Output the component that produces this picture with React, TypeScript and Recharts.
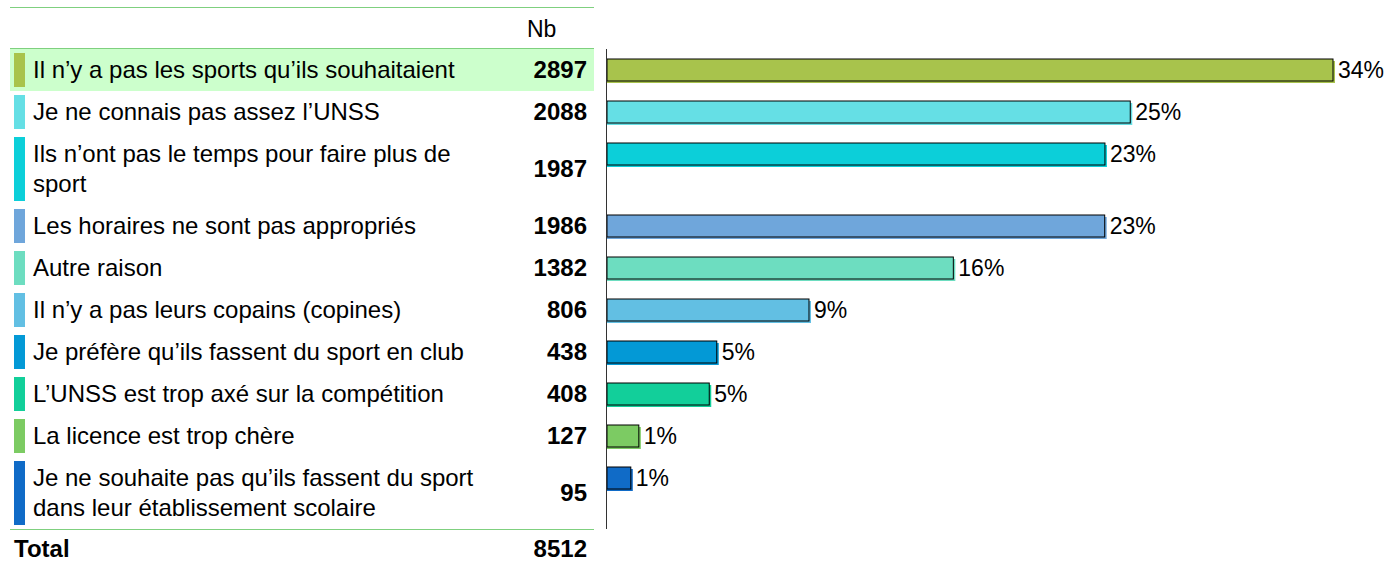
import { Bar, BarChart, LabelList, XAxis, YAxis } from "recharts";

const reasons = [
  "Il n’y a pas les sports qu’ils souhaitaient",
  "Je ne connais pas assez l’UNSS",
  "Ils n’ont pas le temps pour faire plus de\nsport",
  "Les horaires ne sont pas appropriés",
  "Autre raison",
  "Il n’y a pas leurs copains (copines)",
  "Je préfère qu’ils fassent du sport en club",
  "L’UNSS est trop axé sur la compétition",
  "La licence est trop chère",
  "Je ne souhaite pas qu’ils fassent du sport\ndans leur établissement scolaire",
];

const counts = [2897, 2088, 1987, 1986, 1382, 806, 438, 408, 127, 95];

const barColors = [
  "#a8c34c",
  "#65dfe5",
  "#0ccfd9",
  "#6fa6db",
  "#6dddc0",
  "#62bfe3",
  "#0399d6",
  "#12cf9a",
  "#7ccb63",
  "#106bc7",
];

const total = 8512;
const headerLabel = "Nb";
const totalLabel = "Total";

const font = "'Liberation Sans', Arial, Helvetica, sans-serif";
const green = "#7fd07f";
const maxCount = Math.max(...counts);

const pct = (v: number) => `${Math.round((v / total) * 100)}%`;

// bar with a black outline and a coloured drop shadow under / right of it
const ShadowBar = (props: any) => {
  const { x, y, width, height, fill } = props;
  if (!width || width <= 0) return null;
  return (
    <g>
      <rect x={x} y={y + 2} width={width + 2} height={height} fill={fill} />
      <rect
        x={x}
        y={y}
        width={width}
        height={height}
        fill={fill}
        stroke="#000"
        strokeWidth={1}
      />
    </g>
  );
};

const RowChart = ({ name, value, color }: { name: string; value: number; color: string }) => (
  <BarChart
    width={790}
    height={42}
    layout="vertical"
    data={[{ name, value }]}
    margin={{ top: 0, right: 64, left: 0, bottom: 0 }}
  >
    <XAxis type="number" domain={[0, maxCount]} hide />
    <YAxis type="category" dataKey="name" hide />
    <Bar
      dataKey="value"
      fill={color}
      barSize={22}
      isAnimationActive={false}
      shape={(p: any) => <ShadowBar {...p} />}
    >
      <LabelList
        dataKey="value"
        position="right"
        offset={5}
        formatter={(v: any) => pct(Number(v))}
        fill="#000"
        fontSize={23}
        fontFamily={font}
      />
    </Bar>
  </BarChart>
);

export default function App() {
  return (
    <div
      style={{
        position: "absolute",
        left: 0,
        top: 0,
        width: 1388,
        height: 562,
        overflow: "hidden",
        background: "#fff",
        fontFamily: font,
        color: "#000",
      }}
    >
      <div style={{ position: "absolute", left: 10, top: 7 }}>
        {/* header */}
        <div
          style={{
            width: 584,
            height: 40,
            borderTop: `1px solid ${green}`,
            borderBottom: `1px solid ${green}`,
            position: "relative",
          }}
        >
          <div
            style={{
              position: "absolute",
              left: 517,
              top: 7,
              fontSize: 23,
              lineHeight: "28px",
            }}
          >
            {headerLabel}
          </div>
        </div>

        {reasons.map((reason, i) => (
          <div key={reason} style={{ display: "flex" }}>
            <div
              style={{
                width: 584,
                position: "relative",
                background: i === 0 ? "#ccffcc" : "transparent",
                display: "flex",
                alignItems: "center",
              }}
            >
              <div
                style={{
                  position: "absolute",
                  left: 4,
                  top: 4,
                  bottom: 4,
                  width: 11,
                  background: barColors[i],
                }}
              />
              <div
                style={{
                  marginLeft: 23,
                  padding: "6px 0",
                  whiteSpace: "pre",
                  fontSize: 24,
                  lineHeight: "30px",
                }}
              >
                {reason}
              </div>
              <div
                style={{
                  position: "absolute",
                  right: 7,
                  top: 0,
                  bottom: 0,
                  display: "flex",
                  alignItems: "center",
                  fontWeight: "bold",
                  fontSize: 24,
                }}
              >
                {counts[i]}
              </div>
            </div>
            <div style={{ marginLeft: 12, borderLeft: "1px solid #333" }}>
              <RowChart name={reason} value={counts[i]} color={barColors[i]} />
            </div>
          </div>
        ))}

        {/* total */}
        <div
          style={{
            width: 584,
            height: 25,
            paddingTop: 6,
            borderTop: `1px solid ${green}`,
            display: "flex",
            alignItems: "flex-start",
            justifyContent: "space-between",
            fontWeight: "bold",
            fontSize: 24,
            lineHeight: "25px",
          }}
        >
          <span style={{ marginLeft: 4 }}>{totalLabel}</span>
          <span style={{ marginRight: 7 }}>{total}</span>
        </div>
      </div>
    </div>
  );
}
